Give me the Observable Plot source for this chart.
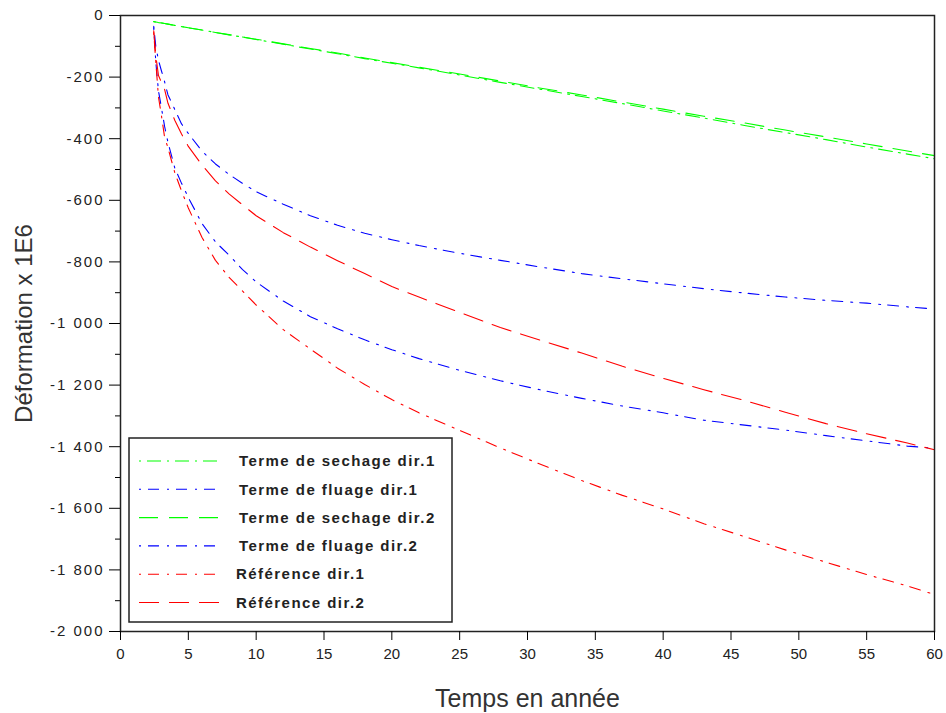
<!DOCTYPE html>
<html><head><meta charset="utf-8">
<script src="https://cdn.jsdelivr.net/npm/d3@7"></script>
<script src="https://cdn.jsdelivr.net/npm/@observablehq/plot@0.6"></script>
<style>
body{margin:0;background:#fff;}
#wrap{position:relative;width:946px;height:713px;}
#legend{position:absolute;left:128px;top:437px;}
g[aria-label="y-axis tick label"] text{letter-spacing:2px;}
</style></head><body><div id="wrap"></div>
<script>
// Time (years)
const temps = [2.45, 2.6, 2.8, 3, 3.25, 3.5, 4, 4.5, 5, 6, 7, 8, 9, 10, 12, 14, 16, 18, 20, 22, 25, 28, 31, 34, 37, 40, 43, 46, 49, 52, 55, 58, 60];
// Déformation x 1E6
const sechageDir1 = [-20, -21, -23, -24, -26, -28, -32, -36, -40, -47, -55, -63, -70, -78, -93, -109, -124, -140, -155, -170, -193, -217, -240, -263, -286, -310, -333, -357, -380, -403, -427, -450, -465];
const fluageDir1  = [-40, -150, -245, -295, -360, -412, -495, -545, -591, -675, -735, -778, -825, -865, -927, -978, -1017, -1053, -1085, -1114, -1152, -1186, -1216, -1243, -1268, -1290, -1314, -1330, -1346, -1364, -1381, -1398, -1405];
const sechageDir2 = [-20, -21, -23, -24, -26, -28, -32, -36, -40, -47, -55, -62, -70, -77, -92, -107, -122, -138, -153, -168, -190, -213, -236, -258, -281, -304, -327, -349, -372, -394, -417, -440, -455];
const fluageDir2  = [-35, -100, -145, -177, -215, -258, -305, -352, -383, -440, -482, -516, -545, -572, -613, -650, -681, -707, -728, -747, -772, -795, -817, -838, -855, -871, -887, -901, -914, -925, -934, -946, -953];
const referenceDir1 = [-55, -150, -265, -320, -395, -430, -510, -570, -625, -720, -795, -850, -895, -940, -1020, -1083, -1145, -1198, -1247, -1290, -1347, -1404, -1458, -1510, -1558, -1602, -1650, -1692, -1735, -1775, -1815, -1852, -1880];
const referenceDir2 = [-50, -130, -195, -215, -240, -285, -340, -385, -425, -485, -537, -579, -615, -650, -705, -752, -796, -838, -880, -914, -964, -1013, -1055, -1096, -1139, -1178, -1215, -1250, -1288, -1325, -1358, -1388, -1410];

const seriesNames = ["Terme de sechage dir.1", "Terme de fluage dir.1", "Terme de sechage dir.2", "Terme de fluage dir.2", "Référence dir.1", "Référence dir.2"];
const seriesValues = [sechageDir1, fluageDir1, sechageDir2, fluageDir2, referenceDir1, referenceDir2];
const seriesColors = ["#00ff00", "#0000ff", "#00ff00", "#0000ff", "#ff0000", "#ff0000"];
const seriesDash = ["2 6 14 6", "2 7 11 8", "19 11", "2 7 11 8", "2 7 11 8", "20 10"];

const xTicks = [0, 5, 10, 15, 20, 25, 30, 35, 40, 45, 50, 55, 60];
const yTicks = [0, -200, -400, -600, -800, -1000, -1200, -1400, -1600, -1800, -2000];
const yMinorTicks = [-100, -300, -500, -700, -900, -1100, -1300, -1500, -1700, -1900];

const fmt = d3.formatLocale({decimal: ".", thousands: " ", grouping: [3], currency: ["", ""], minus: "-"}).format(",d");

const rows = seriesNames.map((name, i) => temps.map((t, j) => ({t, v: seriesValues[i][j], s: name})));

const font = "'Liberation Sans', Arial, Helvetica, sans-serif";

const chart = Plot.plot({
  width: 946, height: 713,
  marginLeft: 120, marginRight: 12, marginTop: 15, marginBottom: 82,
  style: {fontFamily: font, background: "#fff", color: "#000"},
  x: {domain: [0, 60]},
  y: {domain: [-2000, 0]},
  marks: [
    ...rows.map((r, i) => Plot.line(r, {x: "t", y: "v", stroke: seriesColors[i], strokeWidth: 1.1, strokeDasharray: seriesDash[i]})),
    Plot.frame({stroke: "#222", strokeWidth: 1.5}),
    Plot.axisX({ticks: xTicks, tickSize: 9, tickPadding: 8, fontSize: 15, fill: "#222", label: null}),
    Plot.axisY({ticks: yTicks, tickFormat: fmt, tickSize: 11, tickPadding: 5, fontSize: 15, fill: "#222", label: null}),
    Plot.axisY({ticks: yMinorTicks, tickFormat: () => "", tickSize: 5, label: null}),
    Plot.text(["Temps en année"], {frameAnchor: "bottom", dy: 67, fontSize: 25, fill: "#333", lineAnchor: "middle", textAnchor: "middle"}),
    Plot.text(["Déformation x 1E6"], {frameAnchor: "left", dx: -96, rotate: -90, fontSize: 24, fill: "#333", lineAnchor: "middle", textAnchor: "middle"})
  ]
});

const wrap = document.getElementById("wrap");
wrap.appendChild(chart);

// Legend box
const lw = 325, lh = 186;
const leg = d3.create("svg").attr("id", "legend").attr("width", lw).attr("height", lh)
  .style("font-family", font);
leg.append("rect").attr("x", 1).attr("y", 1).attr("width", lw - 2).attr("height", lh - 2)
  .attr("fill", "#fff").attr("stroke", "#222").attr("stroke-width", 1.5);
const rowY = i => 24 + i * 28.3;
seriesNames.forEach((name, i) => {
  leg.append("line").attr("x1", 11).attr("x2", 93).attr("y1", rowY(i)).attr("y2", rowY(i))
    .attr("stroke", seriesColors[i]).attr("stroke-width", 1.1).attr("stroke-dasharray", seriesDash[i]);
  leg.append("text").attr("x", name.startsWith("Réf") ? 108 : 111).attr("y", rowY(i)).attr("dy", "0.35em")
    .attr("font-size", 15).attr("font-weight", "bold").attr("letter-spacing", 1.45).attr("fill", "#222").text(name);
});
wrap.appendChild(leg.node());
</script></body></html>
